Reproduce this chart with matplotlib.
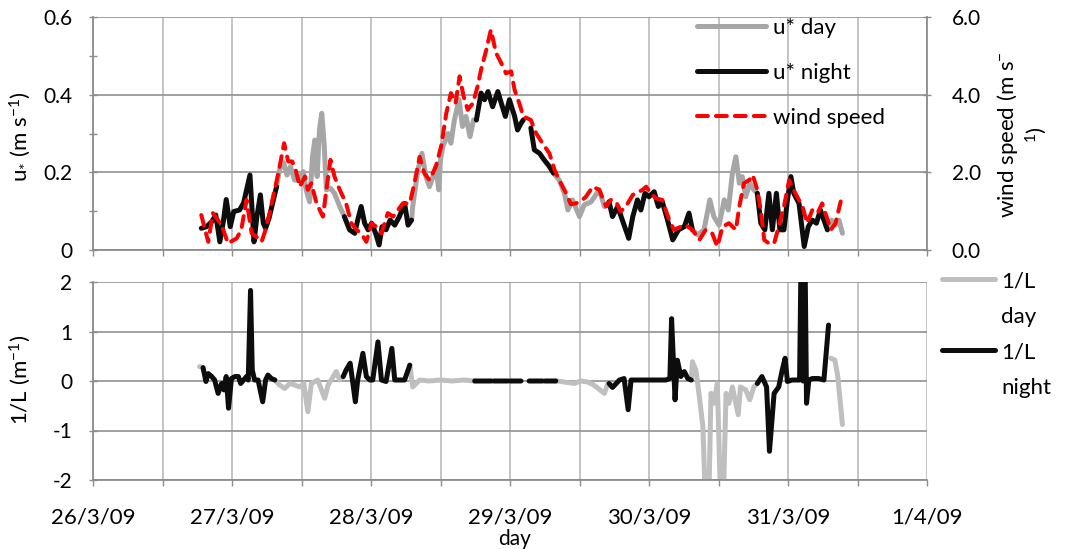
import numpy as np
import matplotlib
matplotlib.use('Agg')
import matplotlib.pyplot as plt
from matplotlib.lines import Line2D
from matplotlib.ticker import FixedLocator, FixedFormatter, NullFormatter

plt.rcParams['font.family'] = ['Lato', 'DejaVu Sans']
plt.rcParams['mathtext.fontset'] = 'custom'
plt.rcParams['mathtext.rm'] = 'Lato'
plt.rcParams['mathtext.it'] = 'Lato:italic'
plt.rcParams['mathtext.default'] = 'regular'
plt.rcParams['axes.unicode_minus'] = False

nan = np.nan

# ---------------- data (time in hours since 26/3/09 00:00) ----------------
date_labels = ['26/3/09', '27/3/09', '28/3/09', '29/3/09', '30/3/09', '31/3/09', '1/4/09']

ustar_day_t = [31.7, 32.2, 32.9, 33.5, 34.1, 34.8, 35.4, 36.3, 36.8, 37.4, 37.9, 38.3, 38.7, 39.1, 39.5, 39.9,
               40.3, 41.0, 41.7, 42.6, 43.4, nan,
               55.0, 55.2, 56.1, 56.8, 57.5, 58.1, 58.7, 59.2, 59.7, 60.0, 60.4, 61.3, 61.8, 62.4, 63.2, 63.8,
               64.4, 65.1, 65.7, 66.2, nan,
               79.5, 80.5, 81.4, 82.0, 82.8, 84.0, 84.8, 86.0, 87.4, 88.3, 89.1, nan,
               103.5, 104.4, 105.5, 106.5, 107.2, 108.1, 109.0, 109.7, 110.4, 111.0, 111.6, 112.1, 112.7,
               113.4, 114.1, 114.7, nan,
               126.8, 127.5, 128.2, 128.8, 129.4]
ustar_day_v = [0.163, 0.206, 0.225, 0.193, 0.215, 0.180, 0.180, 0.202, 0.155, 0.124, 0.240, 0.283, 0.189, 0.309,
               0.352, 0.275, 0.155, 0.159, 0.146, 0.112, 0.086, nan,
               0.077, 0.112, 0.206, 0.249, 0.189, 0.163, 0.189, 0.215, 0.155, 0.232, 0.266, 0.300, 0.275, 0.335,
               0.387, 0.318, 0.344, 0.292, 0.335, 0.335, nan,
               0.198, 0.180, 0.146, 0.103, 0.129, 0.086, 0.116, 0.124, 0.155, 0.112, 0.124, nan,
               0.052, 0.039, 0.052, 0.129, 0.086, 0.064, 0.129, 0.103, 0.198, 0.240, 0.172, 0.189, 0.137,
               0.172, 0.155, 0.146, nan,
               0.052, 0.077, 0.064, 0.077, 0.043]

ustar_night_t = [18.7, 19.6, 20.5, 21.2, 21.9, 22.5, 23.0, 23.7, 24.3, 25.3, 26.0, 27.1, 27.8, 28.3, 28.9, 29.4,
                 29.8, 30.4, 31.0, 31.7, nan,
                 43.4, 44.3, 45.2, 45.7, 46.3, 46.9, 47.5, 48.1, 48.8, 49.4, 49.9, 50.6, 51.3, 52.1, 52.9, 53.8,
                 54.4, 55.0, nan,
                 66.2, 67.0, 67.6, 68.2, 69.0, 69.9, 70.5, 71.2, 71.9, 72.8, 73.3, 73.9, 74.3, nan,
                 75.6, 76.2, 77.1, 77.9, 78.8, 79.5, nan,
                 89.1, 89.7, 90.6, 91.4, 92.5, 93.2, 94.0, 94.6, 95.3, 96.0, 96.9, 97.6, 98.3, 99.2, 100.1,
                 101.1, 102.1, 102.9, 103.5, nan,
                 114.7, 115.3, 116.0, 116.7, 117.3, 118.0, 118.6, 119.3, 119.9, 120.5, 121.0, 121.9, 122.8,
                 123.5, 124.2, 124.9, 125.6, 126.2, 126.8]
ustar_night_v = [0.056, 0.060, 0.073, 0.090, 0.021, 0.073, 0.130, 0.060, 0.099, 0.103, 0.121, 0.193, 0.021,
                 0.086, 0.142, 0.069, 0.056, 0.082, 0.120, 0.163, nan,
                 0.086, 0.052, 0.043, 0.077, 0.112, 0.069, 0.052, 0.069, 0.043, 0.013, 0.060, 0.052, 0.077,
                 0.064, 0.086, 0.120, 0.064, 0.077, nan,
                 0.335, 0.404, 0.387, 0.408, 0.369, 0.408, 0.378, 0.344, 0.387, 0.344, 0.309, 0.326, 0.335, nan,
                 0.314, 0.258, 0.249, 0.232, 0.215, 0.198, nan,
                 0.124, 0.086, 0.112, 0.077, 0.030, 0.086, 0.129, 0.103, 0.146, 0.137, 0.150, 0.112, 0.124,
                 0.077, 0.026, 0.052, 0.060, 0.095, 0.052, nan,
                 0.146, 0.069, 0.052, 0.146, 0.052, 0.146, 0.052, 0.052, 0.129, 0.189, 0.146, 0.120, 0.009,
                 0.060, 0.077, 0.069, 0.103, 0.077, 0.052]

wind_t = [18.7, 19.9, 20.7, 21.6, 22.5, 23.3, 24.8, 25.6, 26.5, 27.4, 28.2, 29.1, 29.8, 30.5, 31.1, 32.0,
          33.0, 33.7, 34.4, 35.0, 35.7, 36.6, 37.1, 37.7, 38.6, 39.7, 40.3, 41.0, 41.7, 42.6, 43.7, 44.6,
          45.5, 46.3, 47.2, 48.1, 48.9, 49.8, 50.9, 51.8, 53.5, 54.7, 55.5, 56.4, 57.2, 58.1, 59.2, 60.1,
          61.0, 61.8, 62.6, 63.3, 64.0, 64.7, 65.6, 66.4, 67.0, 67.9, 68.7, 69.6, 70.5, 71.3, 72.2, 72.8,
          73.6, 74.3, 75.6, 76.5, 77.6, 78.8, 79.7, 80.5, 81.7, 82.5, 83.4, 84.5, 85.1, 86.3, 87.4, 88.6,
          89.4, 90.3, 91.1, 92.0, 93.2, 94.9, 95.5, 96.3, 97.2, 98.3, 99.5, 100.3, 101.5, 102.3, 103.5,
          104.7, 105.8, 106.9, 107.8, 108.7, 109.8, 111.0, 111.6, 112.4, 113.3, 113.9, 114.7, 115.3, 115.9,
          116.7, 117.6, 118.4, 119.3, 120.2, 120.7, 121.6, 122.5, 123.3, 124.2, 125.1, 125.9, 127.4, 128.2,
          129.1]
wind_v = [0.90, 0.21, 0.95, 0.77, 0.52, 0.17, 0.30, 0.52, 1.29, 0.43, 0.34, 0.21, 0.52, 0.95, 1.37, 1.98,
          2.75, 2.28, 2.28, 2.06, 1.63, 1.89, 1.55, 1.72, 1.20, 0.86, 1.55, 2.32, 1.89, 1.55, 1.20, 0.69,
          0.52, 0.43, 0.21, 0.69, 0.60, 0.43, 0.95, 0.86, 1.20, 1.20, 1.72, 2.40, 1.98, 1.80, 2.15, 2.66,
          3.52, 4.04, 3.78, 4.47, 3.95, 3.61, 3.78, 4.21, 4.64, 5.15, 5.67, 5.07, 4.81, 4.55, 4.60, 4.12,
          3.78, 3.44, 3.35, 3.01, 2.75, 2.49, 2.06, 1.80, 1.46, 1.18, 1.20, 1.29, 1.37, 1.63, 1.55, 1.12,
          1.29, 1.25, 0.99, 1.12, 1.42, 1.55, 1.63, 1.46, 1.33, 1.29, 0.77, 0.52, 0.60, 0.64, 0.52,
          0.26, 0.52, 0.43, 0.09, 0.60, 0.69, 0.52, 1.12, 1.72, 1.80, 1.93, 1.55, 1.03, 0.26,
          0.17, 0.17, 0.60, 1.12, 1.80, 1.63, 1.37, 1.12, 0.69, 1.03, 0.95, 1.20, 0.52, 0.69,
          1.25]

invL_day_t = [18.4, 19.0, nan,
              31.4, 32.2, 33.1, 34.0, 34.8, 35.7, 36.4, 37.1, 37.7, 38.8, 40.0, 40.6, 42.0, 42.6, 43.2, nan,
              54.7, 55.2, 56.4, 58.0, 60.0, 62.0, 64.0, 65.9, nan,
              79.9, 80.2, 81.9, 83.1, 84.2, 85.4, 86.3, 86.9, 88.3, 88.9, 89.1, nan,
              103.3, 103.5, 104.1, 104.7, 105.3, 105.8, 106.3, 106.7, 107.2, 107.8, 108.4, 108.8, 109.3,
              109.8, 110.4, 111.4, 111.8, 112.7, 113.4, 114.1, 114.7, nan,
              127.4, 128.1, 128.6, 129.4]
invL_day_v = [0.29, 0.27, nan,
              0.02, -0.08, -0.15, -0.05, -0.08, -0.12, -0.05, -0.62, -0.05, 0.02, -0.35, -0.08, 0.19, 0.02,
              0.09, nan,
              0.32, -0.12, 0.02, 0.00, 0.02, 0.00, 0.02, 0.00, nan,
              0.00, 0.00, -0.03, -0.05, 0.00, -0.02, -0.07, -0.12, -0.25, -0.05, -0.05, nan,
              0.02, 0.39, 0.22, -0.32, -0.92, -2.6, -2.6, -0.25, -0.45, -0.05, -2.6, -2.6, -0.25,
              -0.45, -0.12, -0.68, -0.12, -0.18, -0.38, -0.12, -0.05, nan,
              0.46, 0.42, 0.09, -0.88]

invL_night_t = [19.0, 19.5, 19.9, 20.5, 21.0, 21.6, 22.2, 22.6, 23.0, 23.4, 23.9, 24.5, 25.1, 25.5, 26.0,
                26.5, 26.8, 27.2, 27.5, 27.9, 28.5, 29.3, 29.8, 30.2, 30.8, 31.4, nan,
                43.2, 43.7, 44.4, 45.3, 45.7, 46.6, 47.2, 47.8, 48.3, 49.2, 49.8, 50.6, 51.6, 52.1, 52.9,
                53.8, 54.7, nan,
                65.9, 68.8, nan, 69.2, 71.6, nan, 72.0, 73.9, nan, 75.3, 77.6, nan, 78.0, 79.9, nan,
                89.1, 89.7, 90.9, 91.7, 92.4, 92.9, 94.3, 96.6, 98.9, 99.6, 99.9, 100.5, 100.9, 101.5,
                102.1, 102.7, 103.3, nan,
                114.7, 115.5, 116.3, 116.8, 117.6, 118.4, 119.0, 119.5, 119.9, 120.7, 121.6, 122.0, 122.3,
                122.6, 122.9, 123.2, 123.6, 124.2, 125.3, 126.2, 127.0]
invL_night_v = [0.27, -0.01, 0.15, 0.09, 0.02, -0.25, -0.05, -0.18, 0.09, -0.55, 0.05, 0.09, 0.09, -0.05,
                0.02, 0.09, 0.02, 1.83, 0.22, 0.02, 0.02, -0.42, 0.02, 0.12, 0.05, 0.02, nan,
                0.09, 0.22, 0.36, -0.42, 0.02, 0.56, 0.09, 0.02, 0.02, 0.79, 0.02, -0.01, 0.66, 0.02, 0.02,
                0.02, 0.32, nan,
                0.0, 0.0, nan, 0.0, 0.0, nan, 0.0, 0.0, nan, 0.0, 0.0, nan, 0.0, 0.0, nan,
                -0.05, -0.13, 0.02, 0.05, -0.58, 0.02, 0.02, 0.02, 0.02, 0.05, 1.26, -0.38, 0.42, 0.09,
                0.19, 0.05, 0.02, nan,
                -0.05, 0.09, -0.12, -1.42, -0.25, -0.12, 0.22, 0.46, -0.01, 0.02, 0.02, 0.02, 3.0,
                0.0, 3.0, -0.45, 0.02, 0.05, 0.05, 0.02, 1.13]

# ---------------- styling ----------------
FS = 15
FS_X = 16
C_DAY = '#A6A6A6'
C_DAY_L = '#BFBFBF'
C_NIGHT = '#0D0D0D'
C_WIND = '#FF0000'
C_AX = '#8C8C8C'
C_GRID_H = '#999999'
C_GRID_V = '#BFBFBF'

def days(t):
    return np.asarray(t, dtype=float) / 24.0

W, H = 1065, 549
fig = plt.figure(figsize=(W / 100, H / 100), dpi=100)
ax1 = fig.add_axes([93 / W, 1 - 250 / H, (927 - 93) / W, (250 - 17) / H])
ax3 = fig.add_axes([93 / W, 1 - 480 / H, (927 - 93) / W, (480 - 282) / H])

lw_main = 3.6
kw = dict(solid_joinstyle='round', solid_capstyle='round')

# top panel
l_day, = ax1.plot(days(ustar_day_t), ustar_day_v, color=C_DAY, lw=lw_main, **kw)
l_night, = ax1.plot(days(ustar_night_t), ustar_night_v, color=C_NIGHT, lw=lw_main, **kw)
ax2 = ax1.twinx()
l_wind, = ax2.plot(days(wind_t), wind_v, color=C_WIND, lw=2.9, dashes=(2.7, 2.0),
                   dash_capstyle='round', dash_joinstyle='round')

ax1.set_xlim(0, 6)
ax1.set_ylim(0, 0.6)
ax2.set_ylim(0, 6)

half_days = np.arange(0, 6.01, 0.5)
for ax in (ax1, ax3):
    ax.xaxis.set_major_locator(FixedLocator(np.arange(0, 7)))
    ax.xaxis.set_minor_locator(FixedLocator(half_days[1::2]))
    ax.grid(True, which='both', axis='x', color=C_GRID_V, lw=1.3)
    ax.grid(True, which='major', axis='y', color=C_GRID_H, lw=1.3)
    ax.set_axisbelow(True)
    for s in ('top', 'right'):
        ax.spines[s].set_visible(False)
    for s in ('left', 'bottom'):
        ax.spines[s].set_color(C_AX)
        ax.spines[s].set_linewidth(1.3)
    ax.tick_params(axis='x', which='both', direction='out', length=4.5, width=1.0, color=C_AX)
    ax.tick_params(axis='y', which='both', direction='inout', length=5.8, width=1.0, color=C_AX,
                   pad=12.1, labelsize=FS, labelcolor='black')

ax1.xaxis.set_major_formatter(NullFormatter())
ax1.set_yticks([0, 0.2, 0.4, 0.6])
ax1.set_yticklabels(['0', '0.2', '0.4', '0.6'])
ax1.yaxis.set_minor_locator(FixedLocator([0.1, 0.3, 0.5]))

for s in ('left', 'top', 'bottom'):
    ax2.spines[s].set_visible(False)
ax2.spines['right'].set_color(C_AX)
ax2.spines['right'].set_linewidth(1.3)
ax2.set_yticks([0, 2, 4, 6])
ax2.set_yticklabels(['0.0', '2.0', '4.0', '6.0'])
ax2.tick_params(axis='y', direction='inout', length=5.8, width=1.0, color=C_AX, pad=15,
                labelsize=FS)

# bottom panel
ax3.plot(days(invL_day_t), invL_day_v, color=C_DAY_L, lw=lw_main, **kw)
ax3.plot(days(invL_night_t), invL_night_v, color=C_NIGHT, lw=lw_main, **kw)
ax3.set_xlim(0, 6)
ax3.set_ylim(-2, 2)
ax3.set_yticks([-2, -1, 0, 1, 2])
ax3.set_yticklabels(['-2', '-1', '0', '1', '2'])
ax3.xaxis.set_major_formatter(FixedFormatter(date_labels))
ax3.tick_params(axis='x', which='major', pad=15, labelsize=FS_X)

# labels
fig.text(20 / W, 1 - 137 / H, 'u$_{*}$ (m s$^{-1}$)', rotation=90, ha='center', va='center', fontsize=16)
fig.text(1022 / W, 1 - 135 / H, 'wind speed (m s$^{-}$\n$^{1}$)', rotation=90, ha='center', va='center',
         multialignment='center', fontsize=16)
fig.text(20 / W, 1 - 380 / H, '1/L (m$^{-1}$)', rotation=90, ha='center', va='center', fontsize=16)
fig.text(515 / W, 1 - 539 / H, 'day', ha='center', va='center', fontsize=15)

# legends
ax2.legend([l_day, l_night, l_wind], ['u* day', 'u* night', 'wind speed'], loc='upper left',
           bbox_to_anchor=(697 / W, 1 - 18 / H), bbox_transform=fig.transFigure, frameon=False,
           fontsize=16, handlelength=3.1, handletextpad=0.3, labelspacing=1.12, borderpad=0,
           borderaxespad=0)

h_day = Line2D([], [], color=C_DAY_L, lw=lw_main, solid_capstyle='round')
h_night = Line2D([], [], color=C_NIGHT, lw=lw_main, solid_capstyle='round')
h_none = Line2D([], [], color='none')
fig.legend([h_day, h_none, h_night, h_none], ['1/L', 'day', '1/L', 'night'], loc='upper left',
           bbox_to_anchor=(942 / W, 1 - 271 / H), frameon=False, fontsize=16, handlelength=2.4,
           handletextpad=0.25, labelspacing=0.7, borderpad=0, borderaxespad=0)

fig.savefig('out.png', dpi=100)
